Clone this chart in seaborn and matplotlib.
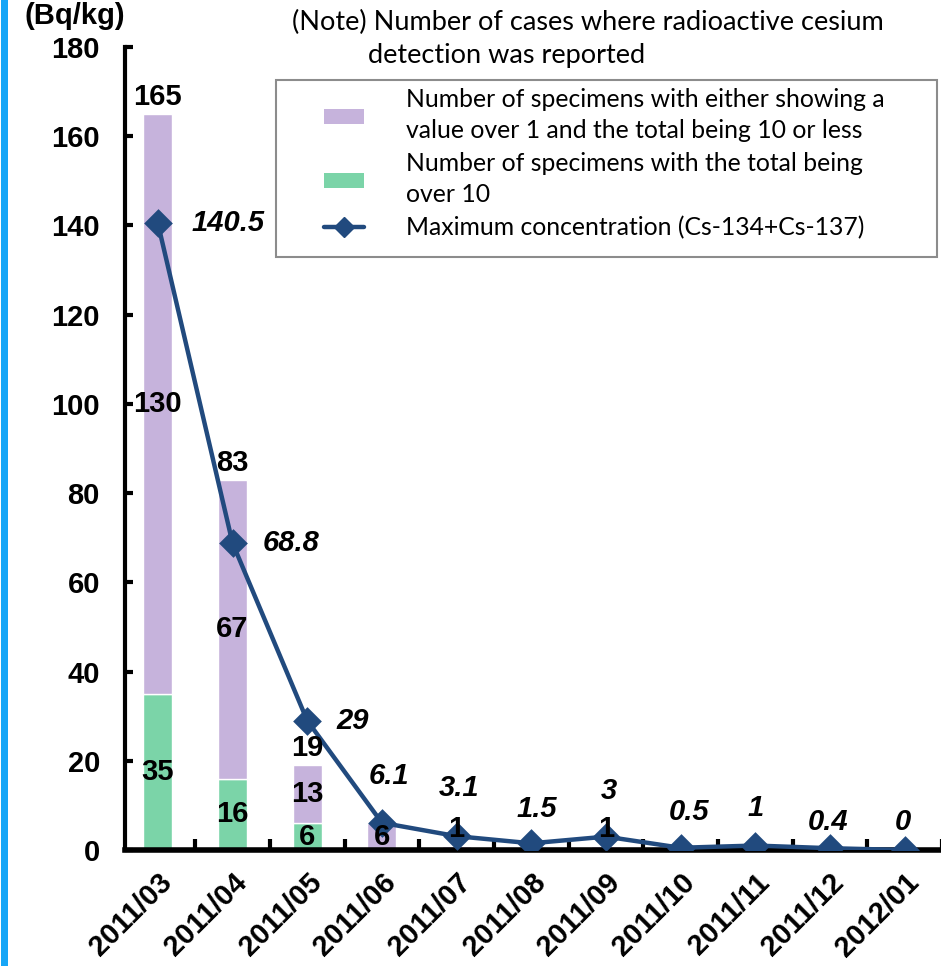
import matplotlib
matplotlib.use("Agg")
import matplotlib.pyplot as plt
from matplotlib.patches import Patch, Rectangle
from matplotlib.lines import Line2D
import seaborn as sns
import pandas as pd

months = ["2011/03", "2011/04", "2011/05", "2011/06", "2011/07", "2011/08",
          "2011/09", "2011/10", "2011/11", "2011/12", "2012/01"]
over10 = [35, 16, 6, 0, 0, 0, 0, 0, 0, 0, 0]
low_range = [130, 67, 13, 6, 1, 0, 1, 0, 0, 0, 0]
max_conc = [140.5, 68.8, 29, 6.1, 3.1, 1.5, 3, 0.5, 1, 0.4, 0]
max_labels = ["140.5", "68.8", "29", "6.1", "3.1", "1.5", "3", "0.5", "1", "0.4", "0"]
yticks = [0, 20, 40, 60, 80, 100, 120, 140, 160, 180]

note_line1 = "(Note) Number of cases where radioactive cesium"
note_line2 = "detection was reported"
leg_labels = ["Number of specimens with either showing a\nvalue over 1 and the total being 10 or less",
              "Number of specimens with the total being\nover 10",
              "Maximum concentration (Cs-134+Cs-137)"]

PURPLE = "#C6B3DC"
GREEN = "#7BD4A8"
LINE = "#214A7E"

sns.set_theme(style="white")
plt.rcParams["font.family"] = ["Liberation Sans", "DejaVu Sans"]
plt.rcParams["text.color"] = "black"
plt.rcParams["xtick.color"] = "black"
plt.rcParams["ytick.color"] = "black"
plt.rcParams["axes.labelcolor"] = "black"

df = pd.DataFrame({"month": months, "over10": over10, "low": low_range,
                   "total": [a + b for a, b in zip(over10, low_range)], "maxc": max_conc})

fig = plt.figure(figsize=(9.41, 9.66), dpi=100)
ax = fig.add_axes([125 / 941, 116 / 966, 817 / 941, 803 / 966])

sns.barplot(data=df, x="month", y="over10", color=GREEN, saturation=1, width=0.39,
            ax=ax, zorder=2)
sns.barplot(data=df, x="month", y="low", color=PURPLE, saturation=1, width=0.39,
            bottom=df["over10"].values, ax=ax, zorder=2)
sns.pointplot(data=df, x="month", y="maxc", color=LINE, markers="D", errorbar=None,
              linewidth=3.2, markersize=12, ax=ax, zorder=4)
for l in ax.lines:
    l.set_zorder(4)

ax.set_xlim(-0.44, 10.5)
ax.set_ylim(0, 180)
ax.set_yticks(yticks)
ax.set_xlabel("")
ax.set_ylabel("")
for s in ["top", "right"]:
    ax.spines[s].set_visible(False)
ax.spines["left"].set_linewidth(3)
ax.spines["bottom"].set_linewidth(4)
ax.spines["left"].set_color("black")
ax.spines["bottom"].set_color("black")

FS = 21
ax.tick_params(axis="y", direction="in", length=6, width=3, color="black",
               labelsize=FS, pad=18, left=True, labelcolor="black")
ax.set_xticks(range(len(months)))
ax.set_xticklabels(months, rotation=45, ha="right", rotation_mode="anchor",
                   fontsize=FS, fontweight="bold", color="black")
ax.tick_params(axis="x", which="major", length=0, pad=13)
ax.set_xticks([i + 0.5 for i in range(len(months))], minor=True)
ax.tick_params(axis="x", which="minor", direction="in", length=8, width=3,
               color="black", bottom=True)
for t in ax.get_yticklabels():
    t.set_fontweight("bold")

# bar labels
for i, (g, p) in enumerate(zip(over10, low_range)):
    tot = g + p
    if g >= 5:
        ax.text(i, g / 2, str(g), ha="center", va="center", fontsize=FS,
                fontweight="bold", zorder=5, color="black")
    if p >= 5:
        ax.text(i, g + p / 2, str(p), ha="center", va="center", fontsize=FS,
                fontweight="bold", zorder=5, color="black")
    if (g > 0 and p > 0) or (0 < tot < 5):
        ax.annotate(str(tot), (i, tot), xytext=(0, 2), textcoords="offset points",
                    ha="center", va="bottom", fontsize=FS, fontweight="bold",
                    zorder=5, color="black")

# line labels
offs = [(24, 0, "left"), (22, 0, "left"), (21, 0, "left"), (5, 34, "center"),
        (2, 35, "center"), (4, 25, "center"), (2, 33, "center"), (6, 26, "center"),
        (0, 27, "center"), (-1, 19, "center"), (-1, 20, "center")]
for i, (v, lab) in enumerate(zip(max_conc, max_labels)):
    dx, dy, ha = offs[i]
    ax.annotate(lab, (i, v), xytext=(dx, dy), textcoords="offset points",
                ha=ha, va="center", fontsize=FS, fontweight="bold",
                fontstyle="italic", zorder=6, color="black")

# unit label
fig.text(75 / 941, 1 - 16 / 966, "(Bq/kg)", ha="center", va="center",
         fontsize=FS, fontweight="bold", color="black")

# note
NOTE_FONT = ["Lato", "DejaVu Sans"]
fig.text(588 / 941, 1 - 22 / 966, note_line1, ha="center", va="center",
         fontsize=19.5, family=NOTE_FONT, color="black")
fig.text(507 / 941, 1 - 55 / 966, note_line2, ha="center", va="center",
         fontsize=19.5, family=NOTE_FONT, color="black")

# legend box
fig.patches.append(Rectangle((276 / 941, 1 - 257 / 966), 661 / 941, 177 / 966,
                             transform=fig.transFigure, facecolor="white",
                             edgecolor="#8C8C8C", linewidth=1.5, zorder=10))
handles = [Patch(facecolor=PURPLE, edgecolor="none"),
           Patch(facecolor=GREEN, edgecolor="none"),
           Line2D([0], [0], color=LINE, lw=3.2, marker="D", markersize=10)]
leg = fig.legend(handles, leg_labels, loc="upper left",
                 bbox_to_anchor=(322 / 941, 1 - 86 / 966), frameon=False,
                 prop={"family": NOTE_FONT, "size": 17.8},
                 handlelength=1.6, handleheight=0.55, handletextpad=1.7,
                 labelspacing=0.4, borderpad=0.1, borderaxespad=0, numpoints=1)
for t in leg.get_texts():
    t.set_color("black")
    t.set_linespacing(1.42)
leg.set_zorder(11)

# left blue stripe
fig.patches.append(Rectangle((1 / 941, 0), 7 / 941, 1, transform=fig.transFigure,
                             facecolor="#17A6F7", edgecolor="none"))

fig.savefig("out.png", dpi=100)
